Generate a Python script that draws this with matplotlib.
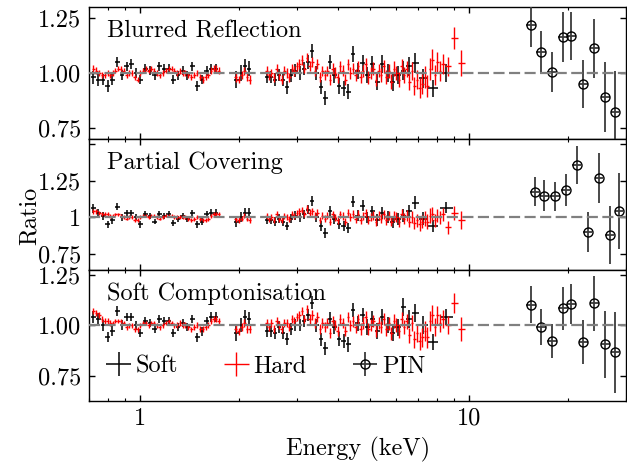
import numpy as np
import matplotlib
matplotlib.use("Agg")
import matplotlib.pyplot as plt

plt.rcParams["font.family"] = "cmr10"
plt.rcParams["axes.formatter.use_mathtext"] = True
plt.rcParams["font.size"] = 17.5

# ---- data (ratio = data / model) ----
soft_e = [0.72, 0.745, 0.77, 0.795, 0.82, 0.85, 0.88, 0.91, 0.94, 0.97,
          1.0, 1.035, 1.07, 1.105, 1.14, 1.18, 1.22, 1.26, 1.30, 1.345,
          1.39, 1.44, 1.49, 1.54, 1.59, 1.645, 1.70,
          1.96, 2.02, 2.08, 2.14,
          2.43, 2.50, 2.57, 2.64, 2.72, 2.80, 2.88, 2.96, 3.05, 3.14,
          3.23, 3.33, 3.43, 3.54, 3.65, 3.77, 3.89, 4.02, 4.15, 4.29,
          4.43, 4.58, 4.74, 4.90, 5.07, 5.25, 5.44, 5.64, 5.85, 6.07,
          6.30, 6.55, 6.85, 7.25, 7.75, 8.5]
soft_err = [0.03, 0.028, 0.027, 0.026, 0.025, 0.024, 0.023, 0.022, 0.022, 0.022,
            0.021, 0.021, 0.021, 0.02, 0.02, 0.02, 0.02, 0.02, 0.02, 0.021,
            0.021, 0.021, 0.022, 0.022, 0.022, 0.023, 0.023,
            0.04, 0.035, 0.035, 0.035,
            0.028, 0.028, 0.028, 0.029, 0.029, 0.03, 0.03, 0.03, 0.03, 0.031,
            0.031, 0.032, 0.032, 0.033, 0.033, 0.034, 0.034, 0.035, 0.035, 0.036,
            0.036, 0.037, 0.037, 0.038, 0.038, 0.039, 0.04, 0.04, 0.041, 0.042,
            0.043, 0.044, 0.045, 0.045, 0.04, 0.04]

hard_e = [0.72, 0.735, 0.75, 0.765, 0.78, 0.795, 0.81, 0.825, 0.84, 0.857,
          0.874, 0.891, 0.908, 0.926, 0.944, 0.962, 0.981, 1.00, 1.02, 1.04,
          1.06, 1.08, 1.10, 1.12, 1.145, 1.17, 1.195, 1.22, 1.245, 1.27,
          1.295, 1.32, 1.345, 1.37, 1.40, 1.43, 1.46, 1.49, 1.52, 1.55,
          1.58, 1.61, 1.64, 1.67, 1.70, 1.73,
          1.95, 1.99, 2.03, 2.07, 2.11, 2.15,
          2.42, 2.46, 2.50, 2.55, 2.60, 2.64, 2.69, 2.74, 2.79, 2.84,
          2.89, 2.94, 2.99, 3.04, 3.10, 3.15, 3.21, 3.27, 3.33, 3.39,
          3.45, 3.51, 3.57, 3.64, 3.70, 3.77, 3.84, 3.91, 3.98, 4.05,
          4.12, 4.20, 4.27, 4.35, 4.43, 4.51, 4.59, 4.67, 4.76, 4.84,
          4.93, 5.02, 5.11, 5.20, 5.30, 5.39, 5.49, 5.59, 5.69, 5.79,
          5.90, 6.00, 6.11, 6.22, 6.34, 6.45, 6.57, 6.69, 6.81, 6.93,
          7.06, 7.19, 7.32, 7.45, 7.58, 7.72, 7.86, 8.00, 8.15, 8.30,
          8.6, 8.98, 9.45]
hard_err = [0.016, 0.015, 0.014, 0.014, 0.013, 0.013, 0.013, 0.012, 0.012, 0.012,
            0.012, 0.012, 0.012, 0.012, 0.012, 0.012, 0.012, 0.012, 0.012, 0.012,
            0.012, 0.012, 0.012, 0.012, 0.012, 0.012, 0.012, 0.012, 0.012, 0.012,
            0.013, 0.013, 0.013, 0.013, 0.013, 0.013, 0.014, 0.014, 0.014, 0.014,
            0.014, 0.015, 0.015, 0.015, 0.016, 0.016,
            0.02, 0.018, 0.018, 0.018, 0.019, 0.02,
            0.02, 0.02, 0.02, 0.02, 0.02, 0.021, 0.021, 0.021, 0.021, 0.021,
            0.021, 0.022, 0.022, 0.022, 0.022, 0.022, 0.022, 0.023, 0.023, 0.023,
            0.023, 0.023, 0.024, 0.024, 0.024, 0.024, 0.025, 0.025, 0.025, 0.025,
            0.026, 0.026, 0.026, 0.027, 0.027, 0.027, 0.027, 0.028, 0.028, 0.028,
            0.029, 0.029, 0.029, 0.03, 0.03, 0.031, 0.031, 0.032, 0.032, 0.033,
            0.033, 0.034, 0.034, 0.035, 0.036, 0.037, 0.038, 0.04, 0.042, 0.044,
            0.045, 0.047, 0.05, 0.052, 0.05, 0.048, 0.045, 0.045, 0.045, 0.045,
            0.045, 0.05, 0.06]

pin_e = [15.4, 16.5, 17.85, 19.2, 20.4, 22.2, 24.0, 25.9, 27.7]
pin_e_pc = [15.8, 16.9, 18.2, 19.6, 21.2, 22.9, 24.8, 26.7, 28.5]
pin_de = [0.5, 0.55, 0.6, 0.6, 0.65, 0.7, 0.75, 0.8, 0.85]

# Blurred Reflection
soft_br = [0.98, 0.97, 0.97, 0.94, 0.97, 1.05, 0.99, 1.03, 1.04, 1.00,
           0.97, 1.02, 1.01, 0.99, 1.03, 1.02, 1.02, 0.97, 0.99, 1.01,
           0.99, 1.03, 0.94, 0.97, 1.01, 1.02, 1.02,
           0.97, 1.00, 1.03, 1.02,
           0.98, 0.98, 0.97, 0.99, 0.97, 0.935, 0.99, 1.01, 1.00, 1.02,
           1.05, 1.10, 1.00, 0.935, 0.885, 1.05, 0.99, 0.94, 0.93, 0.915,
           1.087, 1.01, 1.045, 0.99, 1.04, 0.96, 1.04, 1.00, 0.96, 0.99,
           1.01, 1.03, 1.045, 0.975, 0.93, 1.00]
hard_br = [1.02, 1.01, 1.00, 0.99, 0.99, 1.00, 0.99, 1.00, 1.01, 1.02,
           1.02, 1.01, 0.99, 1.00, 1.00, 0.98, 0.97, 1.00, 1.01, 1.02,
           1.01, 1.02, 1.01, 1.00, 0.99, 1.00, 1.01, 1.02, 1.02, 1.01,
           1.00, 1.01, 1.00, 1.00, 0.99, 0.98, 0.99, 1.00, 0.98, 0.97,
           0.98, 0.99, 1.01, 1.02, 1.02, 1.01,
           0.98, 0.97, 0.99, 1.01, 0.98, 0.97,
           1.01, 0.99, 1.00, 0.98, 1.02, 0.99, 0.97, 1.01, 1.00, 0.98,
           1.02, 1.01, 1.03, 1.04, 1.06, 1.02, 1.07, 1.03, 1.05, 1.01,
           1.04, 0.98, 1.01, 0.99, 1.01, 0.97, 1.02, 1.00, 0.98, 1.03,
           1.01, 0.97, 1.04, 1.00, 1.02, 0.99, 1.03, 0.98, 1.01, 1.04,
           0.98, 1.00, 1.02, 0.97, 1.01, 0.99, 1.03, 0.98, 1.01, 0.96,
           1.02, 1.00, 0.97, 1.03, 0.99, 1.02, 0.96, 1.01, 0.94, 0.97,
           0.93, 0.95, 0.98, 0.94, 1.02, 1.06, 0.99, 1.05, 1.01, 1.04,
           1.03, 1.16, 1.045]
pin_br = [1.22, 1.094, 1.005, 1.165, 1.169, 0.949, 1.114, 0.888, 0.821]
pin_br_err = [0.10, 0.10, 0.09, 0.115, 0.11, 0.11, 0.135, 0.16, 0.19]

# Partial Covering
soft_pc = [1.06, 1.03, 1.01, 0.95, 0.98, 1.07, 1.00, 1.03, 1.03, 1.00,
           0.95, 1.02, 1.01, 0.97, 1.02, 1.01, 1.02, 0.96, 0.99, 1.01,
           0.99, 1.03, 0.95, 0.97, 1.02, 1.03, 1.03,
           0.97, 1.00, 1.03, 1.03,
           0.98, 0.98, 0.97, 0.99, 0.97, 0.94, 0.99, 1.01, 1.00, 1.02,
           1.05, 1.11, 1.00, 0.94, 0.89, 1.04, 0.99, 0.955, 0.94, 0.925,
           1.107, 1.01, 1.08, 1.00, 1.04, 0.98, 1.03, 1.00, 0.965, 0.99,
           1.01, 1.04, 1.10, 0.99, 0.94, 1.066]
hard_pc = [1.04, 1.04, 1.03, 1.02, 1.02, 1.02, 1.01, 1.01, 1.02, 1.02,
           1.01, 1.00, 0.99, 1.00, 1.00, 0.98, 0.98, 1.00, 1.01, 1.01,
           1.00, 1.01, 1.01, 1.00, 0.99, 1.00, 1.01, 1.01, 1.01, 1.00,
           1.00, 1.00, 1.00, 1.00, 0.99, 0.98, 0.99, 1.00, 0.99, 0.98,
           0.98, 0.99, 1.01, 1.02, 1.02, 1.02,
           0.99, 0.98, 0.99, 1.01, 0.99, 0.98,
           1.01, 0.99, 1.00, 0.98, 1.02, 0.99, 0.98, 1.01, 1.00, 0.99,
           1.02, 1.01, 1.03, 1.04, 1.05, 1.02, 1.06, 1.03, 1.04, 1.01,
           1.03, 0.98, 1.01, 0.99, 1.01, 0.97, 1.02, 1.00, 0.98, 1.02,
           1.01, 0.97, 1.03, 1.00, 1.02, 0.99, 1.02, 0.98, 1.01, 1.03,
           0.98, 1.00, 1.01, 0.97, 1.01, 0.99, 1.02, 0.98, 1.01, 0.97,
           1.01, 1.00, 0.97, 1.02, 0.99, 1.01, 0.97, 1.00, 0.96, 0.98,
           0.95, 0.97, 0.99, 0.97, 1.01, 1.02, 0.98, 1.01, 1.00, 1.02,
           0.93, 1.03, 0.98]
pin_pc = [1.175, 1.147, 1.142, 1.186, 1.36, 0.899, 1.269, 0.878, 1.043]
pin_pc_err = [0.10, 0.105, 0.10, 0.11, 0.13, 0.135, 0.17, 0.2, 0.26]

# Soft Comptonisation
soft_sc = [1.04, 1.03, 1.00, 0.94, 0.97, 1.07, 1.00, 1.04, 1.04, 1.00,
           0.96, 1.02, 1.01, 0.98, 1.03, 1.02, 1.02, 0.96, 0.99, 1.01,
           0.99, 1.03, 0.94, 0.97, 1.02, 1.04, 1.04,
           0.96, 1.00, 1.04, 1.03,
           0.97, 0.97, 0.96, 0.99, 0.96, 0.93, 0.98, 1.00, 1.00, 1.02,
           1.05, 1.11, 1.00, 0.93, 0.885, 1.03, 0.99, 0.93, 0.92, 0.905,
           1.074, 1.01, 1.05, 0.99, 1.03, 0.97, 1.04, 1.00, 0.96, 0.99,
           1.09, 1.03, 1.06, 1.00, 0.917, 1.04]
hard_sc = [1.07, 1.06, 1.05, 1.03, 1.02, 1.02, 1.01, 1.01, 1.02, 1.02,
           1.02, 1.01, 0.99, 1.00, 1.00, 0.98, 0.98, 1.00, 1.01, 1.01,
           1.00, 1.01, 1.01, 1.00, 0.99, 1.00, 1.01, 1.02, 1.01, 1.00,
           1.00, 1.01, 1.00, 1.00, 0.99, 0.98, 0.99, 1.00, 0.98, 0.98,
           0.99, 1.00, 1.02, 1.03, 1.03, 1.02,
           0.98, 0.97, 0.99, 1.01, 0.98, 0.98,
           1.01, 0.99, 1.01, 0.98, 1.02, 1.00, 0.98, 1.01, 1.01, 0.99,
           1.03, 1.02, 1.04, 1.05, 1.07, 1.03, 1.08, 1.03, 1.05, 1.01,
           1.04, 0.98, 1.01, 0.99, 1.01, 0.96, 1.02, 1.00, 0.97, 1.03,
           1.01, 0.97, 1.04, 1.00, 1.02, 0.99, 1.03, 0.98, 1.01, 1.04,
           0.98, 1.00, 1.02, 0.97, 1.01, 0.99, 1.03, 0.98, 1.01, 0.96,
           1.02, 1.00, 0.97, 1.03, 0.99, 1.02, 0.95, 1.01, 0.93, 0.96,
           0.92, 0.94, 0.97, 0.94, 1.02, 1.05, 0.99, 1.05, 1.01, 1.03,
           1.00, 1.11, 0.98]
pin_sc = [1.102, 0.992, 0.921, 1.083, 1.106, 0.916, 1.109, 0.904, 0.865]
pin_sc_err = [0.09, 0.09, 0.085, 0.107, 0.10, 0.107, 0.136, 0.167, 0.2]


def half_widths(e):
    """bin half widths (lo, hi) from neighbouring channel centres, gaps skipped"""
    e = np.asarray(e, float)
    le = np.log10(e)
    d = np.diff(le)
    left = np.r_[d[0], d]
    right = np.r_[d, d[-1]]
    left = np.where(left > 0.04, right, left)
    right = np.where(right > 0.04, left, right)
    return [e - 10**(le - left/2), 10**(le + right/2) - e]


def panel(ax, soft, hard, pin, pin_err, pin_x, title, ylim, yticks, ylabels):
    ax.errorbar(soft_e, soft, yerr=soft_err, xerr=half_widths(soft_e), fmt="none",
                ecolor="black", elinewidth=1.1, label="Soft", zorder=2)
    ax.errorbar(hard_e, hard, yerr=hard_err, xerr=half_widths(hard_e), fmt="none",
                ecolor="#ff0000", elinewidth=1.0, label="Hard", zorder=2)
    ax.errorbar(pin_x, pin, yerr=pin_err, xerr=pin_de, fmt="o", ms=6.5,
                mfc="none", mec="black", mew=1.0, ecolor="#3a3a3a",
                elinewidth=1.3, label="PIN", zorder=3)
    ax.axhline(1.0, color="#808080", lw=1.6, ls=(0, (5, 2)), zorder=4)
    ax.set_xscale("log")
    ax.set_xlim(0.7, 30)
    ax.set_ylim(*ylim)
    ax.set_yticks(yticks)
    ax.set_yticklabels(ylabels)
    ax.tick_params(which="both", direction="in", top=True, right=True)
    ax.tick_params(which="major", length=4, width=1.0, pad=6)
    ax.tick_params(which="minor", length=2.2, width=0.8)
    for s in ax.spines.values():
        s.set_linewidth(1.0)
    ax.text(0.033, 0.90, title, transform=ax.transAxes, va="top", ha="left")


fig, axs = plt.subplots(3, 1, sharex=True, figsize=(6.27, 4.63), dpi=100)
fig.subplots_adjust(left=0.1425, right=0.999, top=0.984, bottom=0.1345, hspace=0)

panel(axs[0], soft_br, hard_br, pin_br, pin_br_err, pin_e, "Blurred Reflection",
      (0.70, 1.30), [0.75, 1.0, 1.25], ["0.75", "1.00", "1.25"])
panel(axs[1], soft_pc, hard_pc, pin_pc, pin_pc_err, pin_e_pc, "Partial Covering",
      (0.64, 1.54), [0.75, 1.0, 1.25, 1.5], ["0.75", "1", "1.25", ""])
panel(axs[2], soft_sc, hard_sc, pin_sc, pin_sc_err, pin_e, "Soft Comptonisation",
      (0.625, 1.275), [0.75, 1.0, 1.25], ["0.75", "1.00", "1.25"])

axs[2].set_xticks([1, 10])
axs[2].set_xticklabels(["1", "10"])
axs[2].tick_params(axis="x", which="major", pad=5)
axs[2].set_xlabel("Energy (keV)", labelpad=5)
axs[2].legend(loc="center left", bbox_to_anchor=(0.0, 0.26), ncol=3, frameon=False,
              handlelength=1.0, handletextpad=0.2, columnspacing=1.9,
              borderaxespad=0.3)
fig.text(0.048, 0.533, "Ratio", rotation=90, ha="center", va="center")

fig.savefig("out.png", dpi=100)
